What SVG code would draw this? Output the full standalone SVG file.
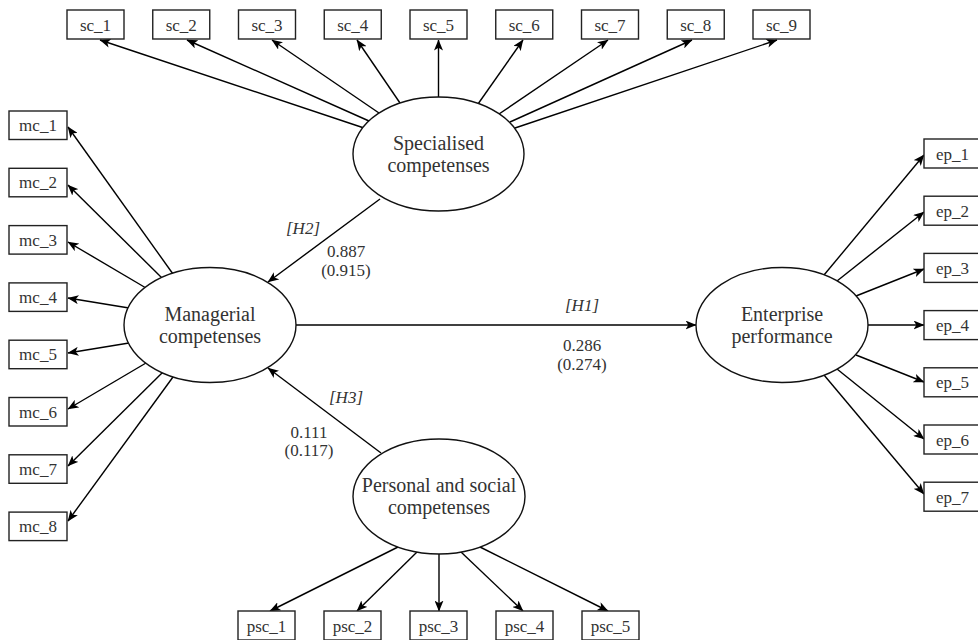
<svg xmlns="http://www.w3.org/2000/svg" width="978" height="640" viewBox="0 0 978 640">
<defs>
<marker id="arr" markerUnits="userSpaceOnUse" markerWidth="11" markerHeight="9" viewBox="0 0 11 9" refX="10.5" refY="4.5" orient="auto">
<path d="M0,0 L11,4.5 L0,9 L2.8,4.5 Z" fill="#000"/>
</marker>
<style>
.box{fill:#fff;stroke:#222;stroke-width:1.4}
.ell{fill:#fff;stroke:#111;stroke-width:1.4}
text{font-family:'Liberation Serif','Times New Roman',Tinos,'DejaVu Serif',serif;fill:#333;text-anchor:middle}
.bt{font-size:17px}
.et{font-size:20px}
.lt{font-size:17px}
.it{font-style:italic}
.edge{stroke:#000;stroke-width:1.4;fill:none;marker-end:url(#arr)}
</style>
</defs>
<rect width="978" height="640" fill="#fff"/>

<g id="connectors">
<line class="edge" x1="364" y1="128" x2="100" y2="40"/>
<line class="edge" x1="369" y1="121" x2="187" y2="40"/>
<line class="edge" x1="379" y1="113" x2="272" y2="40"/>
<line class="edge" x1="400" y1="103" x2="357" y2="40"/>
<line class="edge" x1="438.5" y1="98" x2="438.5" y2="40"/>
<line class="edge" x1="478" y1="104" x2="523" y2="40"/>
<line class="edge" x1="499" y1="114" x2="608" y2="40"/>
<line class="edge" x1="510" y1="122" x2="692" y2="40"/>
<line class="edge" x1="515" y1="128" x2="777" y2="40"/>

<line class="edge" x1="173" y1="274" x2="68" y2="127"/>
<line class="edge" x1="162" y1="278" x2="68" y2="185"/>
<line class="edge" x1="146" y1="288" x2="68" y2="242"/>
<line class="edge" x1="129" y1="308" x2="68" y2="298"/>
<line class="edge" x1="129" y1="343" x2="68" y2="353"/>
<line class="edge" x1="146" y1="363" x2="68" y2="409"/>
<line class="edge" x1="163" y1="372" x2="68" y2="466"/>
<line class="edge" x1="173" y1="377" x2="68" y2="521"/>

<line class="edge" x1="824" y1="275" x2="924" y2="155"/>
<line class="edge" x1="837" y1="281" x2="924" y2="212"/>
<line class="edge" x1="856" y1="296" x2="924" y2="269"/>
<line class="edge" x1="867" y1="325" x2="924" y2="325"/>
<line class="edge" x1="856" y1="355" x2="924" y2="382"/>
<line class="edge" x1="837" y1="369" x2="924" y2="439"/>
<line class="edge" x1="824" y1="375" x2="924" y2="494"/>

<line class="edge" x1="398" y1="547" x2="270" y2="611"/>
<line class="edge" x1="417" y1="552" x2="357" y2="611"/>
<line class="edge" x1="439" y1="553" x2="439" y2="611"/>
<line class="edge" x1="461" y1="552" x2="523" y2="611"/>
<line class="edge" x1="480" y1="547" x2="608" y2="611"/>

<line class="edge" x1="296" y1="325" x2="696" y2="325"/>
<line class="edge" x1="380" y1="199" x2="268" y2="282"/>
<line class="edge" x1="381" y1="453" x2="268" y2="368"/>

<text class="lt it" x="303" y="234">[H2]</text>
<text class="lt" x="346" y="257">0.887</text>
<text class="lt" x="346" y="276">(0.915)</text>
<text class="lt it" x="582" y="311">[H1]</text>
<text class="lt" x="582" y="351">0.286</text>
<text class="lt" x="582" y="370">(0.274)</text>
<text class="lt it" x="346" y="403">[H3]</text>
<text class="lt" x="309" y="438">0.111</text>
<text class="lt" x="309" y="456">(0.117)</text>
</g>

<g id="specialised"><ellipse class="ell" cx="438.5" cy="154" rx="85.5" ry="57"/><text class="et" x="438.5" y="149.5">Specialised</text><text class="et" x="438.5" y="171.5">competenses</text></g>
<g id="managerial"><ellipse class="ell" cx="210" cy="325" rx="86" ry="57.5"/><text class="et" x="210" y="320.5">Managerial</text><text class="et" x="210" y="342.5">competenses</text></g>
<g id="enterprise"><ellipse class="ell" cx="782" cy="325" rx="86" ry="57.5"/><text class="et" x="782" y="320.5">Enterprise</text><text class="et" x="782" y="342.5">performance</text></g>
<g id="personal"><ellipse class="ell" cx="439" cy="496.5" rx="86" ry="57.5"/><text class="et" x="439" y="492">Personal and social</text><text class="et" x="439" y="514">competenses</text></g>

<g id="sc_1"><rect class="box" x="67" y="10" width="57" height="29"/><text class="bt" x="95.5" y="30.5">sc_1</text></g>
<g id="sc_2"><rect class="box" x="152.75" y="10" width="57" height="29"/><text class="bt" x="181.25" y="30.5">sc_2</text></g>
<g id="sc_3"><rect class="box" x="238.5" y="10" width="57" height="29"/><text class="bt" x="267" y="30.5">sc_3</text></g>
<g id="sc_4"><rect class="box" x="324.25" y="10" width="57" height="29"/><text class="bt" x="352.75" y="30.5">sc_4</text></g>
<g id="sc_5"><rect class="box" x="410" y="10" width="57" height="29"/><text class="bt" x="438.5" y="30.5">sc_5</text></g>
<g id="sc_6"><rect class="box" x="495.75" y="10" width="57" height="29"/><text class="bt" x="524.25" y="30.5">sc_6</text></g>
<g id="sc_7"><rect class="box" x="581.5" y="10" width="57" height="29"/><text class="bt" x="610" y="30.5">sc_7</text></g>
<g id="sc_8"><rect class="box" x="667.25" y="10" width="57" height="29"/><text class="bt" x="695.75" y="30.5">sc_8</text></g>
<g id="sc_9"><rect class="box" x="753" y="10" width="57" height="29"/><text class="bt" x="781.5" y="30.5">sc_9</text></g>

<g id="mc_1"><rect class="box" x="9" y="111" width="58" height="28.5"/><text class="bt" x="38" y="131">mc_1</text></g>
<g id="mc_2"><rect class="box" x="9" y="168.3" width="58" height="28.5"/><text class="bt" x="38" y="188.3">mc_2</text></g>
<g id="mc_3"><rect class="box" x="9" y="225.6" width="58" height="28.5"/><text class="bt" x="38" y="245.6">mc_3</text></g>
<g id="mc_4"><rect class="box" x="9" y="282.9" width="58" height="28.5"/><text class="bt" x="38" y="302.9">mc_4</text></g>
<g id="mc_5"><rect class="box" x="9" y="340.2" width="58" height="28.5"/><text class="bt" x="38" y="360.2">mc_5</text></g>
<g id="mc_6"><rect class="box" x="9" y="397.5" width="58" height="28.5"/><text class="bt" x="38" y="417.5">mc_6</text></g>
<g id="mc_7"><rect class="box" x="9" y="454.8" width="58" height="28.5"/><text class="bt" x="38" y="474.8">mc_7</text></g>
<g id="mc_8"><rect class="box" x="9" y="512.1" width="58" height="28.5"/><text class="bt" x="38" y="532.1">mc_8</text></g>

<g id="ep_1"><rect class="box" x="924" y="139" width="57" height="29"/><text class="bt" x="952.5" y="159.5">ep_1</text></g>
<g id="ep_2"><rect class="box" x="924" y="196.2" width="57" height="29"/><text class="bt" x="952.5" y="216.7">ep_2</text></g>
<g id="ep_3"><rect class="box" x="924" y="253.4" width="57" height="29"/><text class="bt" x="952.5" y="273.9">ep_3</text></g>
<g id="ep_4"><rect class="box" x="924" y="310.6" width="57" height="29"/><text class="bt" x="952.5" y="331.1">ep_4</text></g>
<g id="ep_5"><rect class="box" x="924" y="367.8" width="57" height="29"/><text class="bt" x="952.5" y="388.3">ep_5</text></g>
<g id="ep_6"><rect class="box" x="924" y="425" width="57" height="29"/><text class="bt" x="952.5" y="445.5">ep_6</text></g>
<g id="ep_7"><rect class="box" x="924" y="482.2" width="57" height="29"/><text class="bt" x="952.5" y="502.7">ep_7</text></g>

<g id="psc_1"><rect class="box" x="238" y="611" width="57" height="29"/><text class="bt" x="266.5" y="631.5">psc_1</text></g>
<g id="psc_2"><rect class="box" x="324" y="611" width="57" height="29"/><text class="bt" x="352.5" y="631.5">psc_2</text></g>
<g id="psc_3"><rect class="box" x="410" y="611" width="57" height="29"/><text class="bt" x="438.5" y="631.5">psc_3</text></g>
<g id="psc_4"><rect class="box" x="496" y="611" width="57" height="29"/><text class="bt" x="524.5" y="631.5">psc_4</text></g>
<g id="psc_5"><rect class="box" x="582" y="611" width="57" height="29"/><text class="bt" x="610.5" y="631.5">psc_5</text></g>
</svg>
